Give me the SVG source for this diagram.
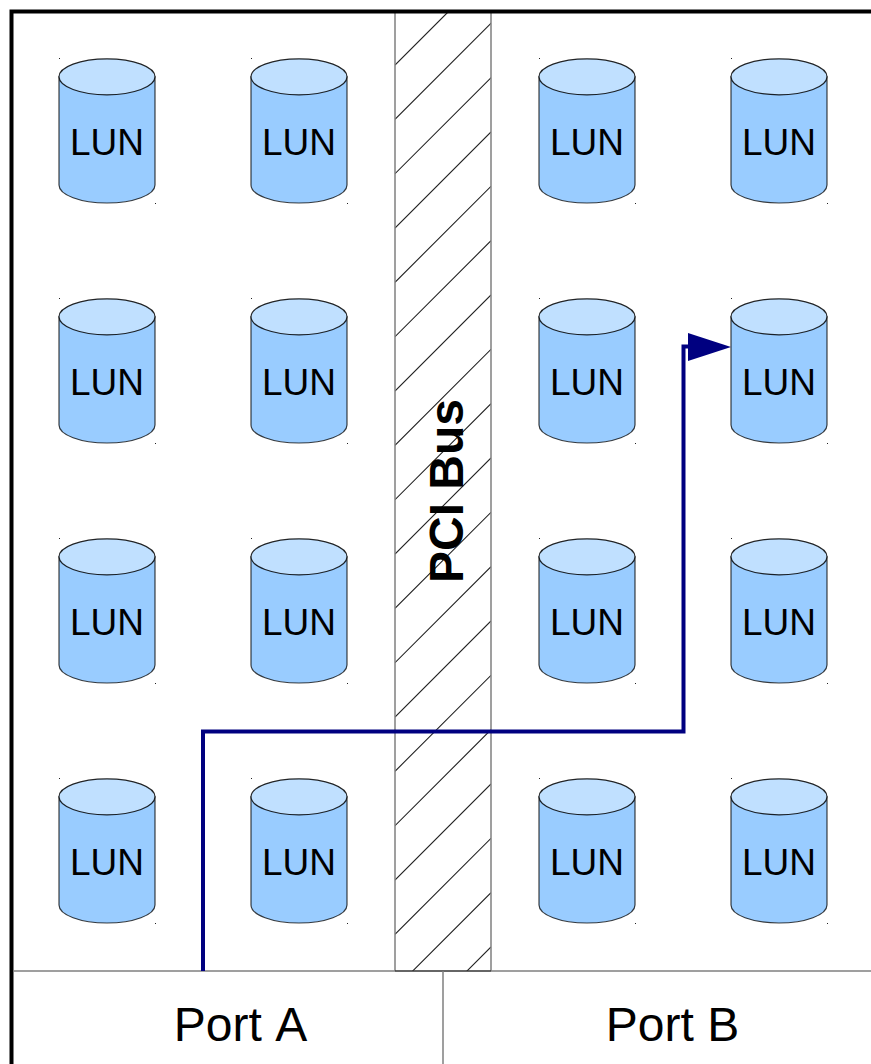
<svg xmlns="http://www.w3.org/2000/svg" xmlns:xlink="http://www.w3.org/1999/xlink" width="871" height="1064" viewBox="0 0 871 1064">
<style>
text{font-family:"Liberation Sans",Arial,sans-serif;fill:#000}
.lun{font-size:37px;text-anchor:middle;font-kerning:none}
.port{font-size:48px;text-anchor:middle;font-kerning:none}
.body{fill:#99ccff;stroke:#000;stroke-width:1.2;stroke-opacity:.75}
.top{fill:#c0e0ff;stroke:#000;stroke-width:1.2;stroke-opacity:.85}
.dot{fill:#222}
.hatch{stroke:#222;stroke-width:1.100;fill:none}
.thin{stroke:#808080;stroke-width:1.500;fill:none}
</style>
<defs>
<clipPath id="busclip"><rect x="395" y="12" width="96" height="959"/></clipPath>
<g id="cyl">
<path class="body" d="M59 76.800V185C59 195 80.500 203 107 203S155 195 155 185V76.800Z"/>
<ellipse class="top" cx="107" cy="76.800" rx="48" ry="18"/>
<rect class="dot" x="59" y="58" width="1" height="1"/>
<rect class="dot" x="155" y="203" width="1" height="1"/>
<text class="lun" x="107" y="155">LUN</text>
</g>
</defs>
<rect width="871" height="1064" fill="#fff"/>
<g id="bus">
<g clip-path="url(#busclip)"><path class="hatch" d="M395 65L448 12M395 119.300L503 11.300M395 173.700L557 11.700M395 228L491 132M395 282.300L491 186.300M395 336.700L491 240.700M395 391L491 295M395 445.300L491 349.300M395 499.700L491 403.700M395 554L491 458M395 608.300L491 512.300M395 662.700L491 566.700M395 717L491 621M395 771.300L491 675.300M395 825.700L491 729.700M395 880L491 784M395 934.300L491 838.300M395 988.700L491 892.700M413 1025L491 947"/></g>
<path class="thin" d="M395 12V971M491 12V971"/>
<path d="M395 971H491" stroke="#333" stroke-width="1.500"/>
<text transform="translate(463 491) rotate(-90)" font-size="48" font-weight="700" text-anchor="middle">PCI Bus</text>
</g>
<g id="frame">
<path d="M11.500 1064V11.500H871" fill="none" stroke="#000" stroke-width="4"/>
<path class="thin" d="M13 971H395M491 971H871M443 971V1064"/>
</g>
<g id="lun-1-1"><use xlink:href="#cyl" href="#cyl"/></g>
<g id="lun-1-2"><use xlink:href="#cyl" href="#cyl" x="192"/></g>
<g id="lun-1-3"><use xlink:href="#cyl" href="#cyl" x="480"/></g>
<g id="lun-1-4"><use xlink:href="#cyl" href="#cyl" x="672"/></g>
<g id="lun-2-1"><use xlink:href="#cyl" href="#cyl" y="240"/></g>
<g id="lun-2-2"><use xlink:href="#cyl" href="#cyl" x="192" y="240"/></g>
<g id="lun-2-3"><use xlink:href="#cyl" href="#cyl" x="480" y="240"/></g>
<g id="lun-2-4"><use xlink:href="#cyl" href="#cyl" x="672" y="240"/></g>
<g id="lun-3-1"><use xlink:href="#cyl" href="#cyl" y="480"/></g>
<g id="lun-3-2"><use xlink:href="#cyl" href="#cyl" x="192" y="480"/></g>
<g id="lun-3-3"><use xlink:href="#cyl" href="#cyl" x="480" y="480"/></g>
<g id="lun-3-4"><use xlink:href="#cyl" href="#cyl" x="672" y="480"/></g>
<g id="lun-4-1"><use xlink:href="#cyl" href="#cyl" y="720"/></g>
<g id="lun-4-2"><use xlink:href="#cyl" href="#cyl" x="192" y="720"/></g>
<g id="lun-4-3"><use xlink:href="#cyl" href="#cyl" x="480" y="720"/></g>
<g id="lun-4-4"><use xlink:href="#cyl" href="#cyl" x="672" y="720"/></g>
<g id="port-a"><text class="port" x="240.500" y="1041">Port A</text></g>
<g id="port-b"><text class="port" x="672.500" y="1041">Port B</text></g>
<g id="connectors">
<path d="M203 971V731.500H683.500V346.500H690" fill="none" stroke="#000080" stroke-width="4"/>
<path d="M688 333L731 347L688 361Z" fill="#000080"/>
</g>
</svg>
